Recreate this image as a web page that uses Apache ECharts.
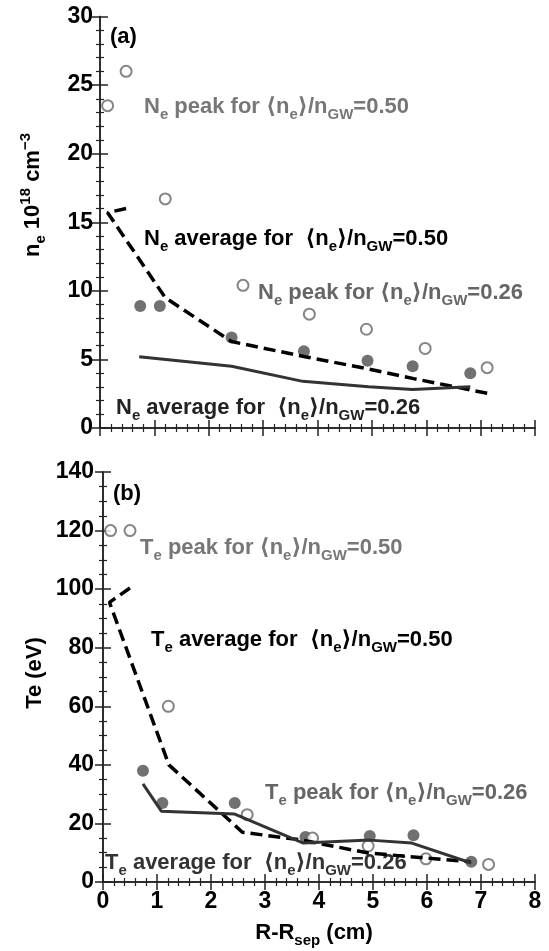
<!DOCTYPE html>
<html>
<head>
<meta charset="utf-8">
<script src="https://cdn.jsdelivr.net/npm/echarts@6/dist/echarts.min.js"></script>
<style>
  html, body { margin: 0; padding: 0; background: #fff; }
  #chart { width: 549px; height: 951px; }
</style>
</head>
<body>
<div id="chart"></div>
<script>
// panel (a): density n_e (10^18 cm^-3) vs R-Rsep (cm)
var nePeakX = [0.14, 0.48, 1.2, 2.63, 3.85, 4.9, 5.98, 7.12]
var nePeakY = [23.5, 26, 16.7, 10.4, 8.3, 7.2, 5.8, 4.4]
var neDotX = [0.74, 1.1, 2.42, 3.75, 4.92, 5.75, 6.81]
var neDotY = [8.9, 8.9, 6.6, 5.6, 4.9, 4.5, 4.0]
var neAvg050X = [0.48, 0.14, 1.2, 2.42, 3.77, 4.94, 5.77, 7.16]
var neAvg050Y = [16.0, 15.7, 9.5, 6.3, 5.2, 4.3, 3.6, 2.5]
var neAvg026X = [0.72, 2.42, 3.73, 4.94, 5.75, 6.81]
var neAvg026Y = [5.2, 4.5, 3.4, 3.0, 2.8, 3.0]

// panel (b): Te (eV) vs R-Rsep (cm)
var tePeakX = [0.14, 0.5, 1.21, 2.67, 3.88, 4.91, 5.98, 7.14]
var tePeakY = [120, 120, 60, 23, 15, 12.3, 7.9, 6]
var teDotX = [0.74, 1.1, 2.44, 3.75, 4.94, 5.75, 6.82]
var teDotY = [38, 27, 27, 15.4, 15.7, 16, 6.9]
var teAvg050X = [0.5, 0.12, 1.22, 2.58, 3.69, 4.91, 5.98, 6.8]
var teAvg050Y = [100.4, 95.5, 40, 17, 14.3, 9.9, 8.2, 6.9]
var teAvg026X = [0.74, 1.08, 2.44, 3.71, 4.94, 5.72, 6.82]
var teAvg026Y = [33.5, 24.2, 23.2, 13.3, 14.3, 13.3, 6.5]

var xTicks = [0, 1, 2, 3, 4, 5, 6, 7, 8]

var FONT = "'Liberation Sans', 'DejaVu Sans', sans-serif"
var AXIS_COLOR = '#222'

function pairs(xs, ys) {
  return xs.map(function (x, i) { return [x, ys[i]] })
}

function axis(extra) {
  var base = {
    type: 'value',
    axisLine: { show: true, lineStyle: { color: AXIS_COLOR, width: 1.5 } },
    axisTick: { show: true, inside: true, length: 8, lineStyle: { color: AXIS_COLOR, width: 1.5 } },
    minorTick: { show: true, splitNumber: 5, length: 4, lineStyle: { color: AXIS_COLOR, width: 1.2 } },
    splitLine: { show: false },
    axisLabel: { show: false, color: '#000', fontSize: 23, fontWeight: 'bold', fontFamily: FONT }
  }
  return Object.assign(base, extra)
}

var rich = {
  t: { fontSize: 22, fontWeight: 'bold', fontFamily: FONT, lineHeight: 30, verticalAlign: 'middle' },
  s: { fontSize: 15, fontWeight: 'bold', fontFamily: FONT, lineHeight: 15, verticalAlign: 'bottom' },
  p: { fontSize: 15, fontWeight: 'bold', fontFamily: FONT, lineHeight: 15, verticalAlign: 'top' }
}

function note(x, y, text, color, extra) {
  return Object.assign({
    type: 'text',
    x: x,
    y: y,
    style: {
      text: text,
      rich: rich,
      fill: color,
      align: 'left',
      verticalAlign: 'middle'
    }
  }, extra || {})
}

var chart = echarts.init(document.getElementById('chart'))

var openDot = { color: '#fff', borderColor: '#666', borderWidth: 2 }
var fullDot = { color: '#4d4d4d' }

chart.setOption({
  animation: false,
  backgroundColor: '#fff',
  grid: [
    { left: 100, top: 16.5, width: 435, height: 411.5 },
    { left: 103, top: 472, width: 432, height: 410 }
  ],
  xAxis: [
    axis({ gridIndex: 0, position: 'bottom', min: 0, max: 8, interval: 1 }),
    axis({ gridIndex: 0, position: 'top', min: 0, max: 8, interval: 1 }),
    axis({ gridIndex: 1, position: 'bottom', min: 0, max: 8, interval: 1,
      axisLabel: { show: true, margin: 8, color: '#000', fontSize: 23, fontWeight: 'bold', fontFamily: FONT,
        formatter: function (v) { return xTicks.indexOf(v) >= 0 ? String(v) : '' } } }),
    axis({ gridIndex: 1, position: 'top', min: 0, max: 8, interval: 1 })
  ],
  yAxis: [
    axis({ gridIndex: 0, position: 'left', min: 0, max: 30, interval: 5,
      axisLabel: { show: true, margin: 7, color: '#000', fontSize: 23, fontWeight: 'bold', fontFamily: FONT } }),
    axis({ gridIndex: 0, position: 'right', min: 0, max: 30, interval: 5 }),
    axis({ gridIndex: 1, position: 'left', min: 0, max: 140, interval: 20,
      minorTick: { show: true, splitNumber: 4, length: 4, lineStyle: { color: AXIS_COLOR, width: 1.2 } },
      axisLabel: { show: true, margin: 9, color: '#000', fontSize: 23, fontWeight: 'bold', fontFamily: FONT } }),
    axis({ gridIndex: 1, position: 'right', min: 0, max: 140, interval: 20,
      minorTick: { show: true, splitNumber: 4, length: 4, lineStyle: { color: AXIS_COLOR, width: 1.2 } } })
  ],
  series: [
    { name: 'ne avg 0.50', type: 'line', xAxisIndex: 0, yAxisIndex: 0, data: pairs(neAvg050X, neAvg050Y),
      showSymbol: false, lineStyle: { color: '#000', width: 3.5, type: [12, 6] } },
    { name: 'ne avg 0.26', type: 'line', xAxisIndex: 0, yAxisIndex: 0, data: pairs(neAvg026X, neAvg026Y),
      showSymbol: false, lineStyle: { color: '#333', width: 3 } },
    { name: 'ne dots', type: 'scatter', xAxisIndex: 0, yAxisIndex: 0, data: pairs(neDotX, neDotY),
      symbolSize: 12, itemStyle: fullDot },
    { name: 'ne peak', type: 'scatter', xAxisIndex: 0, yAxisIndex: 0, data: pairs(nePeakX, nePeakY),
      symbolSize: 11, itemStyle: openDot },

    { name: 'Te avg 0.50', type: 'line', xAxisIndex: 2, yAxisIndex: 2, data: pairs(teAvg050X, teAvg050Y),
      showSymbol: false, lineStyle: { color: '#000', width: 3.5, type: [12, 6] } },
    { name: 'Te avg 0.26', type: 'line', xAxisIndex: 2, yAxisIndex: 2, data: pairs(teAvg026X, teAvg026Y),
      showSymbol: false, lineStyle: { color: '#333', width: 3 } },
    { name: 'Te dots', type: 'scatter', xAxisIndex: 2, yAxisIndex: 2, data: pairs(teDotX, teDotY),
      symbolSize: 12, itemStyle: fullDot },
    { name: 'Te peak', type: 'scatter', xAxisIndex: 2, yAxisIndex: 2, data: pairs(tePeakX, tePeakY),
      symbolSize: 11, itemStyle: openDot }
  ],
  graphic: [
    note(110, 37, '{t|(a)}', '#000'),
    note(113, 494, '{t|(b)}', '#000'),

    note(144, 107, '{t|N}{s|e}{t| peak for ⟨n}{s|e}{t|⟩/n}{s|GW}{t|=0.50}', '#777'),
    note(144, 239, '{t|N}{s|e}{t| average for  ⟨n}{s|e}{t|⟩/n}{s|GW}{t|=0.50}', '#000'),
    note(258, 293, '{t|N}{s|e}{t| peak for ⟨n}{s|e}{t|⟩/n}{s|GW}{t|=0.26}', '#666'),
    note(116, 408, '{t|N}{s|e}{t| average for  ⟨n}{s|e}{t|⟩/n}{s|GW}{t|=0.26}', '#222'),

    note(140, 548, '{t|T}{s|e}{t| peak for ⟨n}{s|e}{t|⟩/n}{s|GW}{t|=0.50}', '#777'),
    note(151, 640, '{t|T}{s|e}{t| average for  ⟨n}{s|e}{t|⟩/n}{s|GW}{t|=0.50}', '#000'),
    note(265, 793, '{t|T}{s|e}{t| peak for ⟨n}{s|e}{t|⟩/n}{s|GW}{t|=0.26}', '#666'),
    note(105, 863, '{t|T}{s|e}{t| average for  ⟨n}{s|e}{t|⟩/n}{s|GW}{t|=0.26}', '#333'),

    note(33, 195, '', '#000',
      { rotation: Math.PI / 2, style: { text: '{t|n}{s|e}{t| 10}{p|18}{t| cm}{p|−3}', rich: rich, fill: '#000', align: 'center', verticalAlign: 'middle' } }),
    note(35, 673, '', '#000',
      { rotation: Math.PI / 2, style: { text: '{t|Te (eV)}', rich: rich, fill: '#000', align: 'center', verticalAlign: 'middle' } }),
    note(314, 933, '', '#000',
      { style: { text: '{t|R-R}{s|sep}{t| (cm)}', rich: rich, fill: '#000', align: 'center', verticalAlign: 'middle' } })
  ]
})
</script>
</body>
</html>
